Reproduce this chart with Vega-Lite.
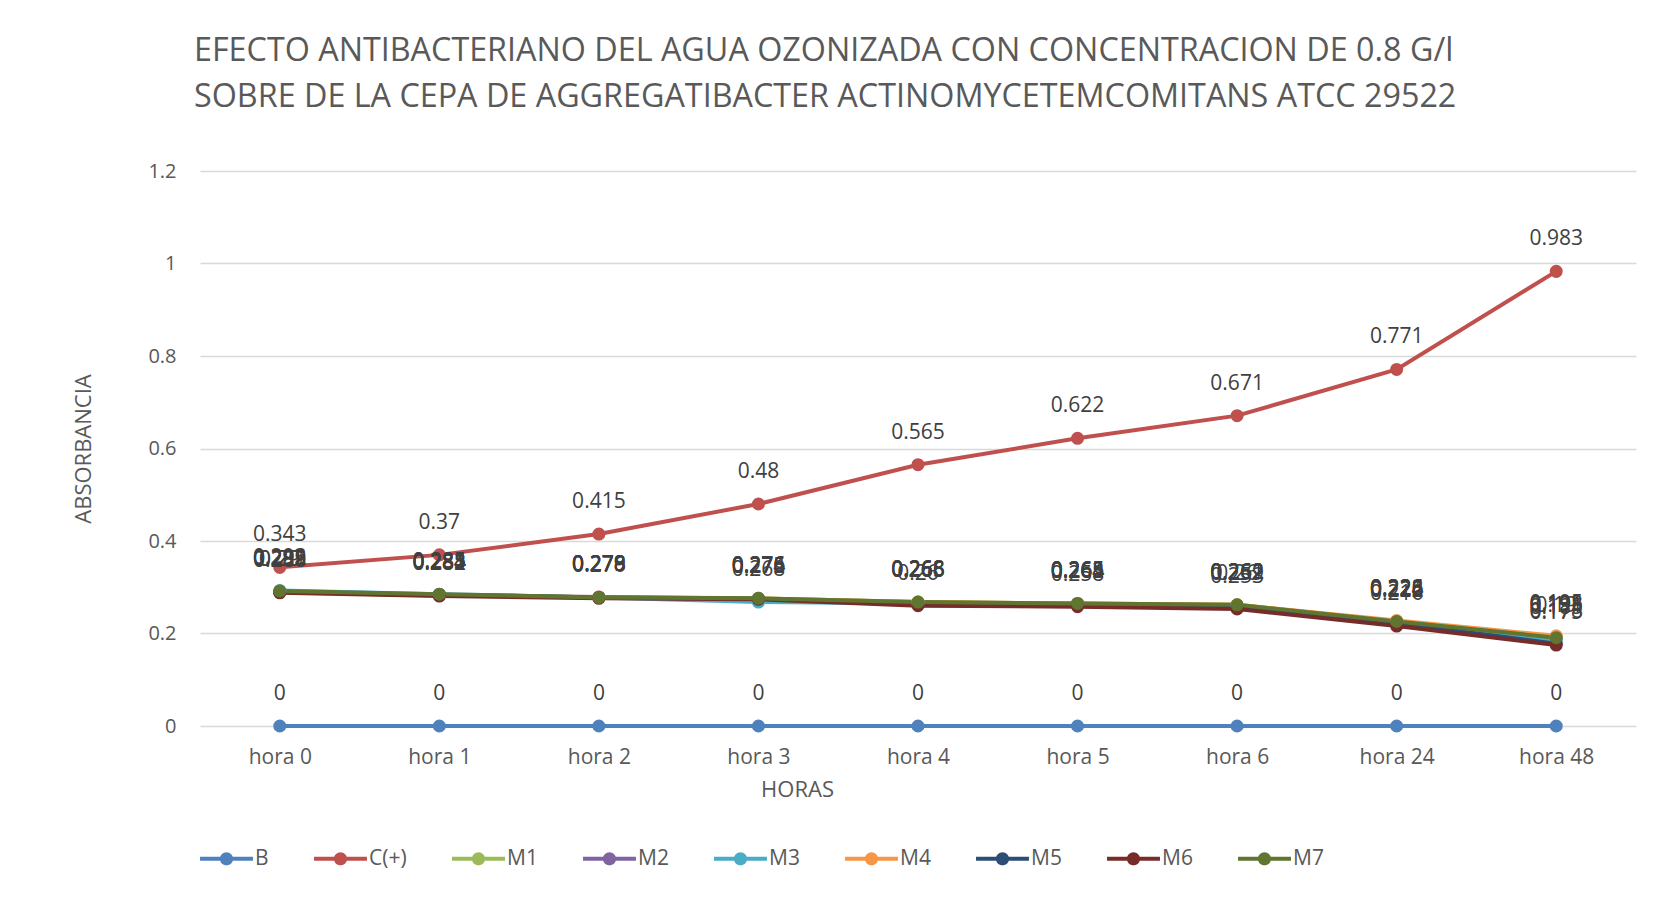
{
  "$schema": "https://vega.github.io/schema/vega-lite/v6.json",
  "autosize": "none",
  "width": 1436,
  "height": 555,
  "padding": {"left": 200, "top": 171, "right": 37, "bottom": 185},
  "background": "white",
  "title": {
    "text": ["EFECTO ANTIBACTERIANO DEL AGUA OZONIZADA CON CONCENTRACION DE 0.8 G/l", "SOBRE DE LA CEPA DE AGGREGATIBACTER ACTINOMYCETEMCOMITANS ATCC 29522"],
    "anchor": "start",
    "frame": "group",
    "dx": -6,
    "offset": 48,
    "font": "Open Sans",
    "fontSize": 32.3,
    "fontWeight": "normal",
    "color": "#595959",
    "lineHeight": 46
  },
  "config": {
    "view": {"stroke": null},
    "font": "Open Sans"
  },
  "data": {
    "values": [
      {"hora": "hora 0", "serie": "B", "valor": 0},
      {"hora": "hora 1", "serie": "B", "valor": 0},
      {"hora": "hora 2", "serie": "B", "valor": 0},
      {"hora": "hora 3", "serie": "B", "valor": 0},
      {"hora": "hora 4", "serie": "B", "valor": 0},
      {"hora": "hora 5", "serie": "B", "valor": 0},
      {"hora": "hora 6", "serie": "B", "valor": 0},
      {"hora": "hora 24", "serie": "B", "valor": 0},
      {"hora": "hora 48", "serie": "B", "valor": 0},
      {"hora": "hora 0", "serie": "C(+)", "valor": 0.343},
      {"hora": "hora 1", "serie": "C(+)", "valor": 0.37},
      {"hora": "hora 2", "serie": "C(+)", "valor": 0.415},
      {"hora": "hora 3", "serie": "C(+)", "valor": 0.48},
      {"hora": "hora 4", "serie": "C(+)", "valor": 0.565},
      {"hora": "hora 5", "serie": "C(+)", "valor": 0.622},
      {"hora": "hora 6", "serie": "C(+)", "valor": 0.671},
      {"hora": "hora 24", "serie": "C(+)", "valor": 0.771},
      {"hora": "hora 48", "serie": "C(+)", "valor": 0.983},
      {"hora": "hora 0", "serie": "M1", "valor": 0.291},
      {"hora": "hora 1", "serie": "M1", "valor": 0.284},
      {"hora": "hora 2", "serie": "M1", "valor": 0.278},
      {"hora": "hora 3", "serie": "M1", "valor": 0.276},
      {"hora": "hora 4", "serie": "M1", "valor": 0.268},
      {"hora": "hora 5", "serie": "M1", "valor": 0.265},
      {"hora": "hora 6", "serie": "M1", "valor": 0.262},
      {"hora": "hora 24", "serie": "M1", "valor": 0.226},
      {"hora": "hora 48", "serie": "M1", "valor": 0.193},
      {"hora": "hora 0", "serie": "M2", "valor": 0.29},
      {"hora": "hora 1", "serie": "M2", "valor": 0.283},
      {"hora": "hora 2", "serie": "M2", "valor": 0.279},
      {"hora": "hora 3", "serie": "M2", "valor": 0.275},
      {"hora": "hora 4", "serie": "M2", "valor": 0.266},
      {"hora": "hora 5", "serie": "M2", "valor": 0.264},
      {"hora": "hora 6", "serie": "M2", "valor": 0.26},
      {"hora": "hora 24", "serie": "M2", "valor": 0.224},
      {"hora": "hora 48", "serie": "M2", "valor": 0.19},
      {"hora": "hora 0", "serie": "M3", "valor": 0.293},
      {"hora": "hora 1", "serie": "M3", "valor": 0.285},
      {"hora": "hora 2", "serie": "M3", "valor": 0.278},
      {"hora": "hora 3", "serie": "M3", "valor": 0.268},
      {"hora": "hora 4", "serie": "M3", "valor": 0.265},
      {"hora": "hora 5", "serie": "M3", "valor": 0.264},
      {"hora": "hora 6", "serie": "M3", "valor": 0.261},
      {"hora": "hora 24", "serie": "M3", "valor": 0.225},
      {"hora": "hora 48", "serie": "M3", "valor": 0.185},
      {"hora": "hora 0", "serie": "M4", "valor": 0.289},
      {"hora": "hora 1", "serie": "M4", "valor": 0.282},
      {"hora": "hora 2", "serie": "M4", "valor": 0.279},
      {"hora": "hora 3", "serie": "M4", "valor": 0.276},
      {"hora": "hora 4", "serie": "M4", "valor": 0.268},
      {"hora": "hora 5", "serie": "M4", "valor": 0.265},
      {"hora": "hora 6", "serie": "M4", "valor": 0.262},
      {"hora": "hora 24", "serie": "M4", "valor": 0.228},
      {"hora": "hora 48", "serie": "M4", "valor": 0.195},
      {"hora": "hora 0", "serie": "M5", "valor": 0.29},
      {"hora": "hora 1", "serie": "M5", "valor": 0.284},
      {"hora": "hora 2", "serie": "M5", "valor": 0.278},
      {"hora": "hora 3", "serie": "M5", "valor": 0.275},
      {"hora": "hora 4", "serie": "M5", "valor": 0.266},
      {"hora": "hora 5", "serie": "M5", "valor": 0.263},
      {"hora": "hora 6", "serie": "M5", "valor": 0.259},
      {"hora": "hora 24", "serie": "M5", "valor": 0.222},
      {"hora": "hora 48", "serie": "M5", "valor": 0.178},
      {"hora": "hora 0", "serie": "M6", "valor": 0.288},
      {"hora": "hora 1", "serie": "M6", "valor": 0.281},
      {"hora": "hora 2", "serie": "M6", "valor": 0.276},
      {"hora": "hora 3", "serie": "M6", "valor": 0.274},
      {"hora": "hora 4", "serie": "M6", "valor": 0.26},
      {"hora": "hora 5", "serie": "M6", "valor": 0.258},
      {"hora": "hora 6", "serie": "M6", "valor": 0.253},
      {"hora": "hora 24", "serie": "M6", "valor": 0.216},
      {"hora": "hora 48", "serie": "M6", "valor": 0.175},
      {"hora": "hora 0", "serie": "M7", "valor": 0.292},
      {"hora": "hora 1", "serie": "M7", "valor": 0.285},
      {"hora": "hora 2", "serie": "M7", "valor": 0.278},
      {"hora": "hora 3", "serie": "M7", "valor": 0.276},
      {"hora": "hora 4", "serie": "M7", "valor": 0.268},
      {"hora": "hora 5", "serie": "M7", "valor": 0.265},
      {"hora": "hora 6", "serie": "M7", "valor": 0.262},
      {"hora": "hora 24", "serie": "M7", "valor": 0.226},
      {"hora": "hora 48", "serie": "M7", "valor": 0.191}
    ]
  },
  "encoding": {
    "x": {
      "field": "hora", "type": "nominal", "sort": null,
      "scale": {"type": "point", "padding": 0.5},
      "axis": {
        "title": "HORAS", "titleFont": "Open Sans", "titleFontSize": 22, "titleFontWeight": "normal", "titleColor": "#595959", "titlePadding": 12, "titleX": 597,
        "labelAngle": 0, "labelFont": "Open Sans", "labelFontSize": 21, "labelColor": "#595959", "labelPadding": 20,
        "domain": false, "ticks": false, "grid": false
      }
    },
    "y": {
      "field": "valor", "type": "quantitative",
      "scale": {"domain": [0, 1.2], "nice": false},
      "axis": {
        "title": "ABSORBANCIA", "titleFont": "Open Sans", "titleFontSize": 22, "titleFontWeight": "normal", "titleColor": "#595959", "titlePadding": 52,
        "values": [0, 0.2, 0.4, 0.6, 0.8, 1, 1.2], "format": "~g",
        "labelFont": "Open Sans", "labelFontSize": 20, "labelColor": "#595959", "labelPadding": 24,
        "domain": false, "ticks": false, "grid": true, "gridColor": "#D9D9D9", "gridWidth": 1.3
      }
    }
  },
  "layer": [
    {
      "mark": {"type": "line", "strokeWidth": 4, "point": {"filled": true, "size": 170, "opacity": 1}},
      "encoding": {
        "color": {
          "field": "serie", "type": "nominal",
          "scale": {
            "domain": ["B", "C(+)", "M1", "M2", "M3", "M4", "M5", "M6", "M7"],
            "range": ["#4F81BD", "#C0504D", "#9BBB59", "#8064A2", "#4BACC6", "#F79646", "#2C4D75", "#772C2A", "#5F7530"]
          },
          "legend": {
            "title": null,
            "orient": "none",
            "direction": "horizontal",
            "columns": 9,
            "legendX": 0,
            "legendY": 661,
            "symbolType": "M-1,-0.08L1,-0.08L1,0.08L-1,0.08Z M-0.25,0 A0.25,0.25 0 1,1 0.25,0 A0.25,0.25 0 1,1 -0.25,0 Z",
            "symbolSize": 2800,
            "symbolStrokeWidth": 0,
            "symbolOpacity": 1,
            "labelFont": "Open Sans",
            "labelFontSize": 21,
            "labelColor": "#595959",
            "labelOffset": 2,
            "columnPadding": 45
          }
        }
      }
    },
    {
      "mark": {"type": "text", "font": "Open Sans", "fontSize": 21, "color": "#404040", "dy": -32, "baseline": "middle"},
      "encoding": {
        "text": {"field": "valor", "type": "quantitative", "format": "~g"},
        "detail": {"field": "serie"}
      }
    }
  ]
}
